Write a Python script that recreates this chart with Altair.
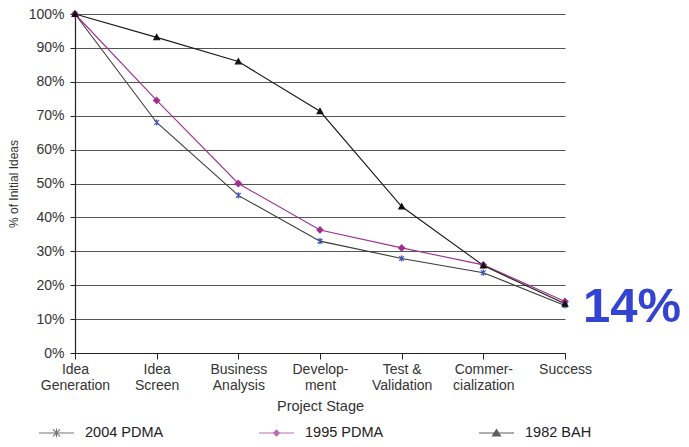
import altair as alt
import pandas as pd

stages = ["Idea|Generation", "Idea|Screen", "Business|Analysis", "Develop-|ment",
          "Test &|Validation", "Commer-|cialization", "Success"]
pdma2004 = [1.00, 0.68, 0.465, 0.33, 0.279, 0.237, 0.14]
pdma1995 = [1.00, 0.745, 0.50, 0.363, 0.31, 0.26, 0.152]
bah1982 = [1.00, 0.931, 0.86, 0.713, 0.432, 0.258, 0.145]
series = ["2004 PDMA", "1995 PDMA", "1982 BAH"]
y_ticks = [0, 0.1, 0.2, 0.3, 0.4, 0.5, 0.6, 0.7, 0.8, 0.9, 1.0]
line_colors = ["#3a3a3a", "#a0308f", "#1a1a1a"]
marker_colors = ["#4455c0", "#a0308f", "#111111"]
marker_paths = [
    "M-1,-1L1,1M-1,1L1,-1M0,-1.3L0,1.3",
    "M0,-1.3L1.3,0L0,1.3L-1.3,0Z",
    "M0,-1.2L1.2,1L-1.2,1Z",
]
legend_paths = [
    "M-1,0H1M-0.2,-0.2L0.2,0.2M-0.2,0.2L0.2,-0.2M0,-0.25L0,0.25",
    "M-1,0H1M0,-0.17L0.17,0L0,0.17L-0.17,0ZM0,-0.1L0.1,0L0,0.1L-0.1,0ZM0,-0.04L0.04,0L0,0.04L-0.04,0Z",
    "M-1,0H1M0,-0.2L0.23,0.17L-0.23,0.17ZM0,-0.11L0.13,0.11L-0.13,0.11ZM0,-0.03L0.05,0.07L-0.05,0.07Z",
]
note_text = "14%"

rows = []
for name, vals in zip(series, [pdma2004, pdma1995, bah1982]):
    for s, v in zip(stages, vals):
        rows.append({"series": name, "stage": s, "value": v})
df = pd.DataFrame(rows)

FONT = "Liberation Sans"

x_enc = alt.X(
    "stage:N",
    sort=stages,
    scale=alt.Scale(type="point", domain=stages, padding=0),
    axis=alt.Axis(
        title="Project Stage",
        labelExpr="split(datum.value, '|')",
        labelAngle=0,
        labelFont=FONT, labelFontSize=14, labelColor="#333333",
        labelLineHeight=16, labelPadding=3,
        tickSize=6, tickColor="#222222",
        domainColor="#222222", domainWidth=1.2,
        grid=False,
        titleFont=FONT, titleFontSize=14.5, titleFontWeight="normal",
        titleColor="#333333", titlePadding=7,
    ),
)
y_enc = alt.Y(
    "value:Q",
    scale=alt.Scale(domain=[0, 1]),
    axis=alt.Axis(
        title="% of Initial Ideas",
        format=".0%",
        values=y_ticks,
        labelFont=FONT, labelFontSize=14, labelColor="#333333",
        labelPadding=6, tickSize=5, tickColor="#222222",
        domainColor="#222222", domainWidth=1.2,
        grid=True, gridColor="#555555", gridWidth=1,
        titleFont=FONT, titleFontSize=12, titleFontWeight="normal",
        titleColor="#333333", titlePadding=8,
    ),
)

line_layers = []
point_layers = []
for name, lc, mc, mp in zip(series, line_colors, marker_colors, marker_paths):
    base = alt.Chart(df).transform_filter(alt.datum.series == name)
    line_layers.append(
        base.mark_line(strokeWidth=1.1, color=lc).encode(x=x_enc, y=y_enc)
    )
    point_layers.append(
        base.mark_point(shape=mp, size=22, filled=True, fill=mc, stroke=mc,
                        strokeWidth=1.2, opacity=1)
        .encode(x=x_enc, y=y_enc)
    )

leg = dict(
    title=None, orient="none", legendX=-37, legendY=400,
    direction="horizontal", columnPadding=92, padding=0,
    symbolSize=1225, symbolStrokeWidth=1.1, labelOffset=10,
    labelFont=FONT, labelFontSize=14.5, labelColor="#222222",
    labelLimit=200,
)

legend_layer = alt.Chart(df).transform_filter("false").mark_point(
    filled=False, strokeWidth=1.1
).encode(
    x=x_enc, y=y_enc,
    color=alt.Color("series:N", scale=alt.Scale(domain=series, range=line_colors),
                    legend=alt.Legend(**leg)),
    shape=alt.Shape(
        "series:N",
        scale=alt.Scale(domain=series, range=legend_paths),
        legend=alt.Legend(**leg),
    ),
)

note = alt.Chart(pd.DataFrame({"stage": [stages[-1]], "value": [0.14], "t": [note_text]})).mark_text(
    align="left", baseline="middle", dx=18, dy=1, font=FONT, fontSize=49,
    fontWeight="bold", color="#3444d2",
).encode(x=x_enc, y=y_enc, text="t:N")

chart = alt.layer(*line_layers, *point_layers, legend_layer, note).properties(
    width=490, height=339,
    autosize=alt.AutoSizeParams(type="none"),
    padding={"left": 75, "top": 14, "right": 124, "bottom": 94},
    background="white",
).configure_view(strokeWidth=0)

chart.save("out.html", embed_options={"renderer": "svg", "actions": False})
